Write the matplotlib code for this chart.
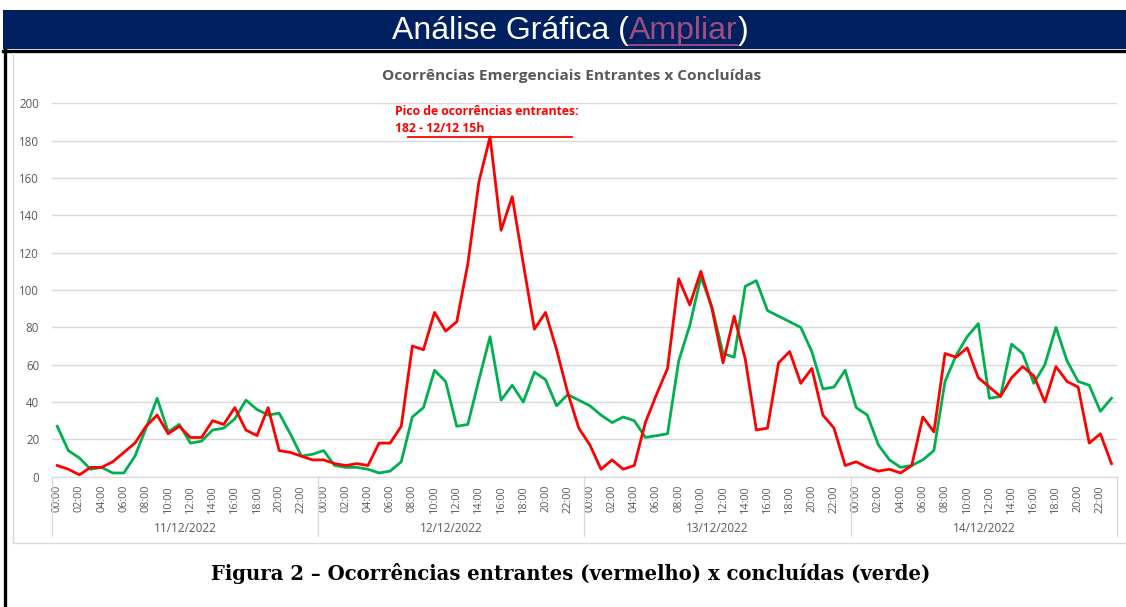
import matplotlib
matplotlib.use("Agg")
import matplotlib.pyplot as plt
from matplotlib.patches import Rectangle
from matplotlib.lines import Line2D

days = ["11/12/2022", "12/12/2022", "13/12/2022", "14/12/2022"]
hours = [f"{h:02d}:00" for h in range(24)]

entrantes = [
    6, 4, 1, 5, 5, 8, 13, 18, 27, 33, 23, 27, 21, 21, 30, 28, 37, 25, 22, 37, 14, 13, 11, 9,
    9, 7, 6, 7, 6, 18, 18, 27, 70, 68, 88, 78, 83, 114, 158, 182, 132, 150, 114, 79, 88, 68, 45, 26,
    17, 4, 9, 4, 6, 29, 44, 58, 106, 92, 110, 90, 61, 86, 63, 25, 26, 61, 67, 50, 58, 33, 26, 6,
    8, 5, 3, 4, 2, 6, 32, 24, 66, 64, 69, 53, 48, 43, 53, 59, 54, 40, 59, 51, 48, 18, 23, 7,
]
concluidas = [
    27, 14, 10, 4, 5, 2, 2, 11, 26, 42, 24, 28, 18, 19, 25, 26, 31, 41, 36, 33, 34, 23, 11, 12,
    14, 6, 5, 5, 4, 2, 3, 8, 32, 37, 57, 51, 27, 28, 52, 75, 41, 49, 40, 56, 52, 38, 44, 41,
    38, 33, 29, 32, 30, 21, 22, 23, 62, 81, 107, 91, 66, 64, 102, 105, 89, 86, 83, 80, 67, 47, 48, 57,
    37, 33, 17, 9, 5, 6, 9, 14, 51, 65, 75, 82, 42, 43, 71, 66, 50, 60, 80, 62, 51, 49, 35, 42,
]

chart_title = "Ocorrências Emergenciais Entrantes x Concluídas"
peak_label = ["Pico de ocorrências entrantes:", "182 - 12/12 15h"]
peak_value = 182
peak_index = 39
caption = "Figura 2 – Ocorrências entrantes (vermelho) x concluídas (verde)"

W, H = 1126, 607
fig = plt.figure(figsize=(W / 100, H / 100), dpi=100)
fig.patch.set_facecolor("white")

def fx(px):
    return px / W

def fy(py):
    return 1 - py / H

# banner
fig.patches.append(Rectangle((fx(3), fy(49)), fx(1123), 39 / H, transform=fig.transFigure,
                             facecolor="#002060", edgecolor="none", zorder=0))
# black frame
fig.add_artist(Line2D([fx(3), fx(1126)], [fy(50.5), fy(50.5)], transform=fig.transFigure,
                      color="black", lw=2.4))
fig.add_artist(Line2D([fx(4.5), fx(4.5)], [fy(50), fy(607)], transform=fig.transFigure,
                      color="black", lw=2.4))
# chart area border
fig.add_artist(Line2D([fx(13), fx(13), fx(1126)], [fy(53), fy(543), fy(543)],
                      transform=fig.transFigure, color="#d9d9d9", lw=1.0))

# banner title pieces
r = fig.canvas.get_renderer()
parts = [("Análise Gráfica (", "white", False), ("Ampliar", "#9E4F7F", True), (")", "white", False)]
texts = []
for s, c, u in parts:
    t = fig.text(0, fy(31), s, ha="left", va="center", color=c, fontsize=23, family="Liberation Sans")
    texts.append(t)
fig.canvas.draw()
widths = [t.get_window_extent(r).width for t in texts]
total = sum(widths)
x0 = 570 - total / 2
for t, w, (s, c, u) in zip(texts, widths, parts):
    t.set_x(x0 / W)
    if u:
        fig.add_artist(Line2D([x0 / W, (x0 + w) / W], [fy(45), fy(45)], transform=fig.transFigure,
                              color=c, lw=1.3))
    x0 += w

# chart title
fig.text(fx(572), fy(76), chart_title, ha="center", va="center", color="#595959",
         fontsize=11.1, fontweight="bold", family="Open Sans")

# caption
fig.text(fx(571), fy(573), caption, ha="center", va="center", color="black",
         fontsize=14.1, fontweight="bold", family="DejaVu Serif")

ax = fig.add_axes([fx(51.7), fy(476.7), (1117 - 51.7) / W, (476.7 - 103.3) / H])
ax.set_facecolor("none")
n = len(entrantes)
x = list(range(n))
ax.set_xlim(-0.5, n - 0.5)
ax.set_ylim(0, 200)
ax.set_yticks(range(0, 201, 20))
ax.set_yticklabels([str(v) for v in range(0, 201, 20)], family="Open Sans", fontsize=8.3,
                   color="#595959")
ax.yaxis.grid(True, color="#d9d9d9", lw=1.0)
ax.set_axisbelow(True)
for s in ["top", "right", "left"]:
    ax.spines[s].set_visible(False)
ax.spines["bottom"].set_color("#d9d9d9")
ax.tick_params(axis="y", length=0, pad=9)

ax.plot(x, concluidas, color="#00B050", lw=2.0, zorder=3)
ax.plot(x, entrantes, color="#FF0000", lw=2.0, zorder=4)

labels = []
pos = []
for d in range(len(days)):
    for h in range(0, 24, 2):
        pos.append(d * 24 + h)
        labels.append(hours[h])
ax.set_xticks(pos)
ax.set_xticklabels(labels, rotation=90, fontsize=7.8, color="#595959", family="Open Sans")
ax.tick_params(axis="x", length=0, pad=6)

# day separators and day labels
for d in range(len(days) + 1):
    ax.plot([d * 24 - 0.5, d * 24 - 0.5], [0, -32], color="#d9d9d9", lw=1.0, clip_on=False)
for d, name in enumerate(days):
    ax.text(d * 24 + 11.5, -27.5, name, ha="center", va="center", fontsize=8.5,
            color="#595959", family="Open Sans", clip_on=False)

# peak annotation
ax.plot([peak_index - 7.35, peak_index + 7.35], [peak_value, peak_value], color="#FF0000", lw=1.3, zorder=5)
ax.text(30.4, 195.5, peak_label[0], ha="left", va="center", color="#FF0000", fontsize=8.8,
        fontweight="bold", family="Open Sans")
ax.text(30.4, 186.5, peak_label[1], ha="left", va="center", color="#FF0000", fontsize=8.8,
        fontweight="bold", family="Open Sans")

fig.savefig("out.png", dpi=100)
